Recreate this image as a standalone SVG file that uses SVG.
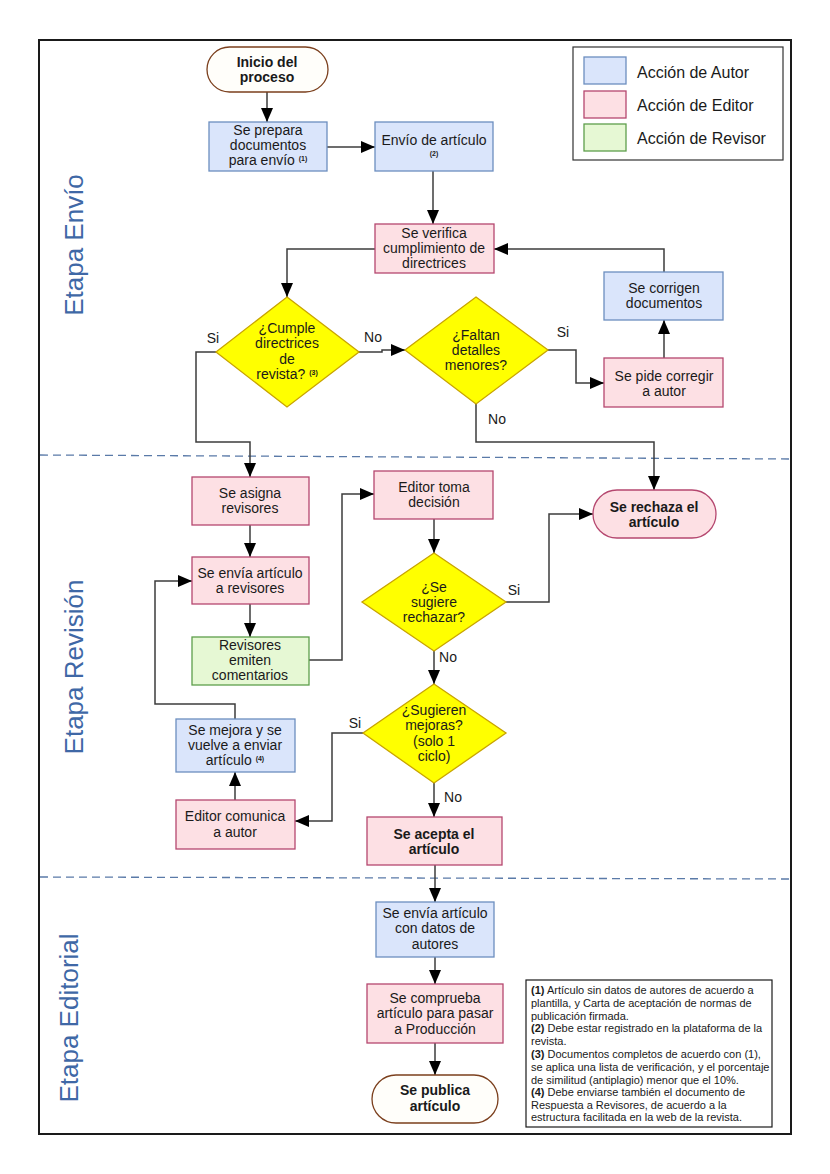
<svg xmlns="http://www.w3.org/2000/svg" width="830" height="1174" viewBox="0 0 830 1174">
<defs>
<marker id="ah" markerUnits="userSpaceOnUse" markerWidth="14" markerHeight="12" refX="14" refY="6" orient="auto"><path d="M0,0 L14,6 L0,12 z" fill="#000"/></marker>
<style>
text{font-family:"Liberation Sans",Arial,sans-serif;fill:#1a1a1a}
.t{font-size:14px;text-anchor:middle}
.b{font-size:14px;text-anchor:middle;font-weight:bold}
.sup{font-size:7px;font-weight:bold}
.lbl{font-size:14px;text-anchor:middle}
.lane{font-size:26px;text-anchor:middle;fill:#3f68a6}
.leg{font-size:16px}
.note{font-size:11px}
.nb{font-weight:bold}
.au{fill:#dae5fb;stroke:#6c8ebf;stroke-width:1.3}
.ed{fill:#fde0e4;stroke:#b5476f;stroke-width:1.3}
.rv{fill:#e6f8d4;stroke:#5e9e4c;stroke-width:1.3}
.dm{fill:#ffff00;stroke:#c9a400;stroke-width:1.3}
.term{fill:#fffefa;stroke:#7b3f1d;stroke-width:1.3}
.c{fill:none;stroke:#3c3c3c;stroke-width:1.5}
.ca{fill:none;stroke:#3c3c3c;stroke-width:1.5;marker-end:url(#ah)}
.dash{stroke:#5a7aa8;stroke-width:1.3;stroke-dasharray:8,5;fill:none}
</style>
</defs>
<rect width="830" height="1174" fill="#ffffff"/>
<rect x="39" y="40" width="752" height="1094" fill="none" stroke="#1a1a1a" stroke-width="2"/>
<line class="dash" x1="40" y1="455" x2="790" y2="459"/>
<line class="dash" x1="40" y1="877" x2="790" y2="879"/>
<g id="lanes">
<text class="lane" transform="translate(83,245) rotate(-90)">Etapa Envío</text>
<text class="lane" transform="translate(83,667) rotate(-90)">Etapa Revisión</text>
<text class="lane" transform="translate(78,1018) rotate(-90)">Etapa Editorial</text>
</g>
<g id="legend">
<rect x="573" y="47" width="210" height="113" fill="#fff" stroke="#333" stroke-width="1.2"/>
<rect class="au" x="584" y="57" width="42" height="27"/>
<rect class="ed" x="584" y="91" width="42" height="27"/>
<rect class="rv" x="584" y="124" width="42" height="27"/>
<text class="leg" x="637" y="78">Acción de Autor</text>
<text class="leg" x="637" y="111">Acción de Editor</text>
<text class="leg" x="637" y="144">Acción de Revisor</text>
</g>
<g id="connectors">
<path class="ca" d="M267,92 V122"/>
<path class="ca" d="M327,147 H375"/>
<path class="ca" d="M433,171 V224"/>
<path class="ca" d="M375,249 H287 V297"/>
<path class="ca" d="M216,352 H196 V442 H250 V477"/>
<path class="ca" d="M359,352 H382 V350 H405"/>
<path class="ca" d="M476,404 V442 H654 V490"/>
<path class="ca" d="M548,350 H576 V383 H604"/>
<path class="ca" d="M664,358 V320"/>
<path class="ca" d="M664,272 V249 H494"/>
<path class="ca" d="M250,525 V557"/>
<path class="ca" d="M250,604 V637"/>
<path class="ca" d="M309,660 H342 V494 H374"/>
<path class="ca" d="M434,519 V553"/>
<path class="ca" d="M506,602 H549 V514 H593"/>
<path class="ca" d="M434,651 V684"/>
<path class="ca" d="M363,733 H332 V821 H295"/>
<path class="ca" d="M235,800 V772"/>
<path class="ca" d="M235,719 V704 H155 V581 H192"/>
<path class="ca" d="M434,783 V817"/>
<path class="ca" d="M435,865 V902"/>
<path class="ca" d="M435,957 V984"/>
<path class="ca" d="M435,1043 V1075"/>
<text class="lbl" x="213" y="343">Si</text>
<text class="lbl" x="373" y="342">No</text>
<text class="lbl" x="497" y="424">No</text>
<text class="lbl" x="563" y="337">Si</text>
<text class="lbl" x="514" y="595">Si</text>
<text class="lbl" x="448" y="662">No</text>
<text class="lbl" x="355" y="728">Si</text>
<text class="lbl" x="453" y="802">No</text>
</g>
<g id="inicio">
<rect class="term" x="207" y="47" width="121" height="45" rx="22.5"/>
<text class="b" x="267" y="67">Inicio del</text>
<text class="b" x="267" y="82">proceso</text>
</g>
<g id="prepara">
<rect class="au" x="209" y="122" width="118" height="49"/>
<text class="t" x="268" y="135">Se prepara</text>
<text class="t" x="268" y="150">documentos</text>
<text class="t" x="268" y="165">para envío <tspan class="sup" dy="-4">(1)</tspan></text>
</g>
<g id="envio">
<rect class="au" x="375" y="122" width="118" height="49"/>
<text class="t" x="434" y="145">Envío de artículo</text>
<text class="t sup" x="434" y="156" style="font-size:7px">(2)</text>
</g>
<g id="verifica">
<rect class="ed" x="375" y="224" width="119" height="49"/>
<text class="t" x="434" y="238">Se verifica</text>
<text class="t" x="434" y="253">cumplimiento de</text>
<text class="t" x="434" y="268">directrices</text>
</g>
<g id="cumple">
<polygon class="dm" points="287,297 359,352 287,407 216,352"/>
<text class="t" x="287" y="333">¿Cumple</text>
<text class="t" x="287" y="348">directrices</text>
<text class="t" x="287" y="364">de</text>
<text class="t" x="287" y="379">revista? <tspan class="sup" dy="-4">(3)</tspan></text>
</g>
<g id="faltan">
<polygon class="dm" points="476,297 548,350 476,404 405,350"/>
<text class="t" x="476" y="340">¿Faltan</text>
<text class="t" x="476" y="355">detalles</text>
<text class="t" x="476" y="370">menores?</text>
</g>
<g id="corrigen">
<rect class="au" x="604" y="272" width="119" height="48"/>
<text class="t" x="664" y="293">Se corrigen</text>
<text class="t" x="664" y="308">documentos</text>
</g>
<g id="pide">
<rect class="ed" x="604" y="358" width="119" height="49"/>
<text class="t" x="664" y="381">Se pide corregir</text>
<text class="t" x="664" y="396">a autor</text>
</g>
<g id="asigna">
<rect class="ed" x="192" y="477" width="117" height="48"/>
<text class="t" x="250" y="498">Se asigna</text>
<text class="t" x="250" y="513">revisores</text>
</g>
<g id="envia-rev">
<rect class="ed" x="192" y="557" width="117" height="47"/>
<text class="t" x="250" y="578">Se envía artículo</text>
<text class="t" x="250" y="593">a revisores</text>
</g>
<g id="revisores">
<rect class="rv" x="192" y="637" width="117" height="48"/>
<text class="t" x="250" y="650">Revisores</text>
<text class="t" x="250" y="665">emiten</text>
<text class="t" x="250" y="680">comentarios</text>
</g>
<g id="decision">
<rect class="ed" x="374" y="471" width="119" height="48"/>
<text class="t" x="434" y="492">Editor toma</text>
<text class="t" x="434" y="507">decisión</text>
</g>
<g id="rechazar">
<polygon class="dm" points="434,553 506,602 434,651 362,602"/>
<text class="t" x="434" y="592">¿Se</text>
<text class="t" x="434" y="607">sugiere</text>
<text class="t" x="434" y="622">rechazar?</text>
</g>
<g id="rechaza">
<rect class="ed" x="593" y="490" width="123" height="48" rx="24"/>
<text class="b" x="654" y="512">Se rechaza el</text>
<text class="b" x="654" y="527">artículo</text>
</g>
<g id="mejoras">
<polygon class="dm" points="434,684 506,733 434,783 363,733"/>
<text class="t" x="434" y="715">¿Sugieren</text>
<text class="t" x="434" y="730">mejoras?</text>
<text class="t" x="434" y="746">(solo 1</text>
<text class="t" x="434" y="761">ciclo)</text>
</g>
<g id="mejora">
<rect class="au" x="176" y="719" width="119" height="53"/>
<text class="t" x="235" y="735">Se mejora y se</text>
<text class="t" x="235" y="750">vuelve a enviar</text>
<text class="t" x="235" y="765">artículo <tspan class="sup" dy="-4">(4)</tspan></text>
</g>
<g id="comunica">
<rect class="ed" x="176" y="800" width="119" height="49"/>
<text class="t" x="235" y="821">Editor comunica</text>
<text class="t" x="235" y="837">a autor</text>
</g>
<g id="acepta">
<rect class="ed" x="367" y="817" width="135" height="48"/>
<text class="b" x="434" y="839">Se acepta el</text>
<text class="b" x="434" y="854">artículo</text>
</g>
<g id="datos">
<rect class="au" x="376" y="902" width="118" height="55"/>
<text class="t" x="435" y="918">Se envía artículo</text>
<text class="t" x="435" y="933">con datos de</text>
<text class="t" x="435" y="949">autores</text>
</g>
<g id="comprueba">
<rect class="ed" x="367" y="984" width="136" height="59"/>
<text class="t" x="435" y="1003">Se comprueba</text>
<text class="t" x="435" y="1018">artículo para pasar</text>
<text class="t" x="435" y="1034">a Producción</text>
</g>
<g id="publica">
<rect class="term" x="372" y="1075" width="126" height="48" rx="24"/>
<text class="b" x="435" y="1095">Se publica</text>
<text class="b" x="435" y="1111">artículo</text>
</g>
<g id="notas">
<rect x="526" y="980" width="246" height="147" fill="#fff" stroke="#1a1a1a" stroke-width="1.2"/>
<text class="note" x="531" y="994"><tspan class="nb">(1)</tspan> Artículo sin datos de autores de acuerdo a</text>
<text class="note" x="531" y="1007">plantilla, y Carta de aceptación de normas de</text>
<text class="note" x="531" y="1020">publicación firmada.</text>
<text class="note" x="531" y="1032"><tspan class="nb">(2)</tspan> Debe estar registrado en la plataforma de la</text>
<text class="note" x="531" y="1045">revista.</text>
<text class="note" x="531" y="1058"><tspan class="nb">(3)</tspan> Documentos completos de acuerdo con (1),</text>
<text class="note" x="531" y="1071">se aplica una lista de verificación, y el porcentaje</text>
<text class="note" x="531" y="1084">de similitud (antiplagio) menor que el 10%.</text>
<text class="note" x="531" y="1096"><tspan class="nb">(4)</tspan> Debe enviarse también el documento de</text>
<text class="note" x="531" y="1109">Respuesta a Revisores, de acuerdo a la</text>
<text class="note" x="531" y="1121">estructura facilitada en la web de la revista.</text>
</g>
</svg>
